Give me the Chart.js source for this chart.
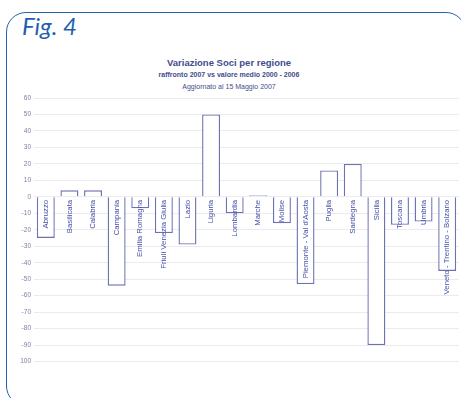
<!DOCTYPE html>
<html>
<head>
<meta charset="utf-8">
<script src="https://cdn.jsdelivr.net/npm/chart.js@4"></script>
<style>
  html, body { margin: 0; padding: 0; background: #fff; }
  #wrap { position: relative; width: 461px; height: 398px; overflow: hidden; }
  #frame {
    position: absolute; left: 6px; top: 12px; width: 460px; height: 394px;
    border: 1.5px solid #2262ad; border-radius: 20px; box-sizing: border-box;
  }
  #fig {
    position: absolute; left: 22px; top: 11px;
    font-family: Lato, "Open Sans", sans-serif; font-style: italic;
    font-size: 24px; color: #1f5fae;
  }
  .t { position: absolute; left: 0; width: 458px; text-align: center;
       font-family: "Liberation Sans", Arial, sans-serif; color: #444c8c; }
  #t1 { top: 57px; font-size: 9.5px; font-weight: bold; }
  #t2 { top: 71px; font-size: 7px; font-weight: bold; }
  #t3 { top: 83px; font-size: 7px; }
  canvas { position: absolute; left: 0; top: 0; }
</style>
</head>
<body>
<div id="wrap">
  <div id="frame"></div>
  <div id="fig">Fig. 4</div>
  <div class="t" id="t1">Variazione Soci per regione</div>
  <div class="t" id="t2">raffronto 2007 vs valore medio 2000 - 2006</div>
  <div class="t" id="t3">Aggiornato al 15 Maggio 2007</div>
  <canvas id="myChart" width="461" height="398"></canvas>
</div>
<script>
// dati
const regioni = ['Abruzzo', 'Basilicata', 'Calabria', 'Campania', 'Emilia Romagna',
    'Friuli Venezia Giulia', 'Lazio', 'Liguria', 'Lombardia', 'Marche', 'Molise',
    "Piemonte - Val d'Aosta", 'Puglia', 'Sardegna', 'Sicilia', 'Toscana', 'Umbria',
    'Veneto - Trentino - Bolzano'];
const variazione = [-25, 4, 4, -54, -7, -22, -29, 50, -10, 1, -16, -53, 16, 20, -90, -17, -15, -45];
const yMin = -110;
const yMax = 60;
const yStep = 10;

// etichette delle regioni scritte in verticale sotto lo zero
const etichette = {
    id: 'etichette',
    afterDatasetsDraw(chart) {
        const ctx = chart.ctx;
        const x = chart.scales.x;
        const y0 = chart.scales.y.getPixelForValue(0);
        ctx.save();
        ctx.font = '7.8px "Liberation Sans", Arial, sans-serif';
        ctx.fillStyle = '#4350a6';
        ctx.textAlign = 'right';
        ctx.textBaseline = 'middle';
        regioni.forEach(function (r, i) {
            ctx.save();
            ctx.translate(x.getPixelForValue(i), y0 + 3);
            ctx.rotate(-Math.PI / 2);
            ctx.fillText(r, 0, 0);
            ctx.restore();
        });
        ctx.restore();
    }
};

document.addEventListener("DOMContentLoaded", function () {
    const ctx = document.getElementById("myChart");
    new Chart(ctx, {
        type: 'bar',
        data: {
            labels: regioni,
            datasets: [{
                data: variazione,
                backgroundColor: '#ffffff',
                borderColor: '#6d72b2',
                borderWidth: 1.4,
                barPercentage: 0.76,
                categoryPercentage: 1.0
            }]
        },
        options: {
            responsive: false,
            animation: false,
            layout: { padding: { left: 20, right: 2, top: 98, bottom: 20 } },
            plugins: { legend: { display: false }, tooltip: { enabled: false } },
            scales: {
                x: {
                    display: false
                },
                y: {
                    min: yMin,
                    max: yMax,
                    border: { display: false },
                    grid: {
                        drawTicks: false,
                        color: c => c.tick && c.tick.value === yMin ? 'rgba(0,0,0,0)' : '#ebebef'
                    },
                    ticks: {
                        stepSize: yStep,
                        padding: 3,
                        color: '#7e83a0',
                        font: { size: 6.5, family: '"Liberation Sans", Arial, sans-serif' },
                        callback: v => v === yMin ? '' : v
                    },
                    afterFit: s => { s.width = 14; }
                }
            }
        },
        plugins: [etichette]
    });
});
</script>
</body>
</html>
